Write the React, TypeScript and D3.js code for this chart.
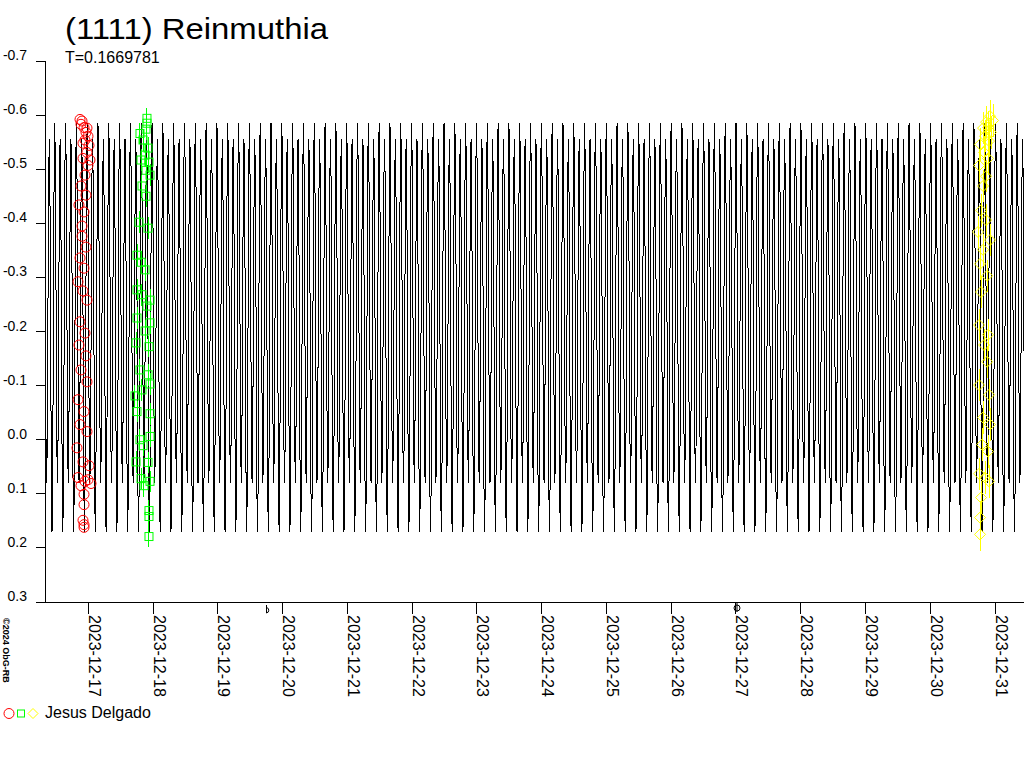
import React from "react";
import * as d3 from "d3";

// ---------- data ----------
const title = "(1111) Reinmuthia";
const periodDays = 0.1669781;
const periodLabel = "T=0.1669781";
const observer = "Jesus Delgado";
const copyright = "©2024 ObG-RB";

// model lightcurve shape over one period (phase, magnitude)
const shapePhase = [0, 0.05, 0.1, 0.15, 0.2, 0.25, 0.3, 0.35, 0.4, 0.45, 0.5, 0.55, 0.6, 0.65, 0.7, 0.75, 0.8, 0.85, 0.9, 0.95];
const shapeMag = [0.17, 0.098, -0.091, -0.324, -0.513, -0.585, -0.521, -0.355, -0.15, 0.016, 0.08, 0.019, -0.139, -0.336, -0.494, -0.555, -0.486, -0.304, -0.081, 0.101];
// epoch of deep minimum: 2023-12-18 + 0.7774 d
const epochDay = 18.7774;

// y axis ticks
const yTicks = [-0.7, -0.6, -0.5, -0.4, -0.3, -0.2, -0.1, 0.0, 0.1, 0.2, 0.3];
const yTickLabels = ["-0.7", "-0.6", "-0.5", "-0.4", "-0.3", "-0.2", "-0.1", "0.0", "0.1", "0.2", "0.3"];
// x axis tick days (December 2023)
const xTickDays = [17, 18, 19, 20, 21, 22, 23, 24, 25, 26, 27, 28, 29, 30, 31];

// moon phases (December 2023 day, kind)
const moonDays = [19.777, 27.023];
const moonKinds = ["firstQuarter", "full"];

// observations: day of December 2023 (UTC) and magnitude
const redDays = [16.872, 16.903, 16.887, 16.934, 16.964, 16.995, 16.949, 17.011, 16.98, 16.918, 16.995, 16.949, 16.887, 16.964, 16.856, 16.934, 16.903, 16.964, 16.872, 16.934, 16.841, 16.918, 16.98, 16.872, 16.949, 16.856, 16.964, 16.887, 16.98, 16.841, 16.934, 16.872, 16.98, 16.825, 16.918, 17.011, 16.841, 16.949, 17.042, 16.887, 16.995, 16.934, 16.934, 16.918, 16.934, 16.934, 16.98, 16.918, 17.026, 16.903];
const redMags = [-0.592, -0.589, -0.583, -0.577, -0.568, -0.561, -0.554, -0.544, -0.531, -0.52, -0.507, -0.489, -0.469, -0.452, -0.434, -0.421, -0.376, -0.356, -0.336, -0.317, -0.292, -0.275, -0.258, -0.218, -0.197, -0.175, -0.155, -0.129, -0.107, -0.074, -0.052, -0.028, -0.015, 0.015, 0.041, 0.048, 0.07, 0.077, 0.081, 0.085, 0.074, 0.101, 0.12, 0.149, 0.157, 0.162, -0.576, -0.548, -0.517, -0.395];

const greenDays = [17.906, 17.906, 17.891, 17.798, 17.845, 17.922, 17.876, 17.937, 17.814, 17.891, 17.953, 17.829, 17.891, 17.783, 17.922, 17.752, 17.814, 17.876, 17.752, 17.829, 17.953, 17.906, 17.752, 17.953, 17.876, 17.737, 17.937, 17.798, 17.922, 17.953, 17.829, 17.721, 17.752, 17.953, 17.953, 17.798, 17.845, 17.737, 17.922, 17.814, 17.953, 17.86, 17.937, 17.937, 17.937];
const greenMags = [-0.594, -0.585, -0.574, -0.566, -0.554, -0.539, -0.526, -0.513, -0.517, -0.498, -0.489, -0.469, -0.45, -0.402, -0.391, -0.341, -0.328, -0.314, -0.277, -0.268, -0.258, -0.247, -0.225, -0.216, -0.201, -0.179, -0.172, -0.129, -0.12, -0.103, -0.092, -0.081, -0.052, -0.048, -0.006, 0.0, 0.011, 0.041, 0.042, 0.072, 0.077, 0.085, 0.131, 0.142, 0.179];

const yellowDays = [30.923, 30.97, 30.862, 30.893, 30.816, 30.939, 30.847, 30.908, 30.769, 30.831, 30.893, 30.754, 30.862, 30.816, 30.785, 30.862, 30.738, 30.923, 30.816, 30.769, 30.878, 30.785, 30.754, 30.893, 30.831, 30.878, 30.754, 30.908, 30.816, 30.923, 30.8, 30.893, 30.754, 30.847, 30.908, 30.785, 30.769, 30.769];
const yellowMags = [-0.598, -0.59, -0.587, -0.577, -0.576, -0.568, -0.561, -0.552, -0.546, -0.531, -0.52, -0.507, -0.487, -0.469, -0.424, -0.406, -0.384, -0.369, -0.351, -0.325, -0.303, -0.273, -0.212, -0.194, -0.175, -0.144, -0.101, -0.083, -0.041, -0.028, 0.009, 0.022, 0.063, 0.07, 0.077, 0.107, 0.144, 0.175];

const greenErr = 0.02;
const yellowErr = 0.03;

// ---------- helpers ----------
const DAY = 86400000;
const dec = (d: number) => new Date(Date.UTC(2023, 11, 1) + (d - 1) * DAY);

const FONT = "'Liberation Sans', Arial, sans-serif";

export default function App() {
  const left = 45;
  const right = 1024;
  const top = 61;
  const bottom = 602;

  const x = d3.scaleUtc().domain([dec(17), dec(31)]).range([88.3, 995]);
  const y = d3.scaleLinear().domain([-0.7, 0.3]).range([top, bottom]);

  const tStart = x.invert(left).getTime();
  const tEnd = x.invert(right).getTime();
  const epoch = dec(epochDay).getTime();
  const P = periodDays * DAY;

  const curve: [number, number][] = [];
  const n0 = Math.floor((tStart - epoch) / P) - 1;
  const n1 = Math.ceil((tEnd - epoch) / P) + 1;
  for (let n = n0; n <= n1; n++) {
    shapePhase.forEach((ph, k) => {
      const t = epoch + (n + ph) * P;
      curve.push([x(new Date(t)), y(shapeMag[k])]);
    });
  }
  const linePath = d3.line()(curve) || "";

  const red = redDays.map((d, i) => ({ cx: x(dec(d)), cy: y(redMags[i]) }));
  const green = greenDays.map((d, i) => ({ cx: x(dec(d)), cy: y(greenMags[i]), y0: y(greenMags[i] - greenErr), y1: y(greenMags[i] + greenErr) }));
  const yellow = yellowDays.map((d, i) => ({ cx: x(dec(d)), cy: y(yellowMags[i]), y0: y(yellowMags[i] - yellowErr), y1: y(yellowMags[i] + yellowErr) }));

  const diamond = (cx: number, cy: number, r: number) => `M${cx},${cy - r}L${cx + r},${cy}L${cx},${cy + r}L${cx - r},${cy}Z`;

  return (
    <svg width={1024} height={768} style={{ position: "absolute", left: 0, top: 0, background: "#fff" }} fontFamily={FONT}>
      <rect x={0} y={0} width={1024} height={768} fill="#fff" />
      <defs>
        <clipPath id="plot">
          <rect x={left + 1} y={0} width={right - left} height={bottom} />
        </clipPath>
      </defs>

      {/* title */}
      <text x={65} y={39} fontSize={30} fill="#000" textLength={263} lengthAdjust="spacingAndGlyphs">{title}</text>
      <text x={65} y={63} fontSize={16} fill="#000">{periodLabel}</text>

      {/* y axis */}
      <line x1={left} x2={left} y1={top} y2={bottom} stroke="#000" shapeRendering="crispEdges" />
      {yTicks.map((t, i) => (
        <g key={t}>
          <line x1={36} x2={left} y1={y(t)} y2={y(t)} stroke="#000" shapeRendering="crispEdges" />
          <text x={27} y={y(t) - 1} fontSize={14} textAnchor="end" fill="#000">{yTickLabels[i]}</text>
        </g>
      ))}

      {/* x axis */}
      <line x1={36} x2={right} y1={bottom} y2={bottom} stroke="#000" shapeRendering="crispEdges" />
      {xTickDays.map((d) => {
        const px = x(dec(d));
        const label = d3.utcFormat("%Y-%m-%d")(dec(d));
        return (
          <g key={d}>
            <line x1={px} x2={px} y1={bottom} y2={bottom + 12} stroke="#000" shapeRendering="crispEdges" />
            <text transform={`translate(${px + 0.5},${bottom + 13}) rotate(90)`} fontSize={16} fill="#000">{label}</text>
          </g>
        );
      })}

      {/* moon phases */}
      {moonDays.map((d, i) => {
        const px = Math.round(x(dec(d)));
        if (moonKinds[i] === "full") {
          return (
            <g key={d} stroke="#000" fill="none" strokeWidth={1}>
              <circle cx={px} cy={608} r={3} />
              <line x1={px} x2={px} y1={603} y2={612} />
            </g>
          );
        }
        return (
          <g key={d} stroke="#000" fill="none" strokeWidth={1}>
            <line x1={px - 1.5} x2={px - 1.5} y1={605} y2={613} />
            <path d={`M${px - 1.5},${607.5} A2.8,2.8 0 0 1 ${px - 1.5},${613}`} />
          </g>
        );
      })}

      {/* model curve and observations */}
      <g clipPath="url(#plot)">
        <path d={linePath} fill="none" stroke="#000" strokeWidth={1} shapeRendering="crispEdges" />
        {green.map((p, i) => (
          <line key={"ge" + i} x1={p.cx} x2={p.cx} y1={p.y0} y2={p.y1} stroke="#00ff00" strokeWidth={1} shapeRendering="crispEdges" />
        ))}
        {yellow.map((p, i) => (
          <line key={"ye" + i} x1={p.cx} x2={p.cx} y1={p.y0} y2={p.y1} stroke="#ffff00" strokeWidth={1} shapeRendering="crispEdges" />
        ))}
        {red.map((p, i) => (
          <circle key={"r" + i} cx={p.cx} cy={p.cy} r={5} fill="none" stroke="#ff0000" strokeWidth={1} />
        ))}
        {green.map((p, i) => (
          <rect key={"g" + i} x={p.cx - 4} y={p.cy - 4} width={8} height={8} fill="none" stroke="#00ff00" strokeWidth={1} />
        ))}
        {yellow.map((p, i) => (
          <path key={"y" + i} d={diamond(p.cx, p.cy, 5.5)} fill="none" stroke="#ffff00" strokeWidth={1} />
        ))}
      </g>

      {/* copyright */}
      <text transform="translate(3,618) rotate(90)" fontSize={9} fontWeight="bold" fill="#000">{copyright}</text>

      {/* legend */}
      <circle cx={9} cy={713.5} r={5} fill="none" stroke="#ff0000" />
      <rect x={17.5} y={710} width={7} height={7} fill="none" stroke="#00ff00" />
      <path d={diamond(33, 713.5, 5)} fill="none" stroke="#ffff00" />
      <text x={45} y={718} fontSize={16} fill="#000">{observer}</text>
    </svg>
  );
}
